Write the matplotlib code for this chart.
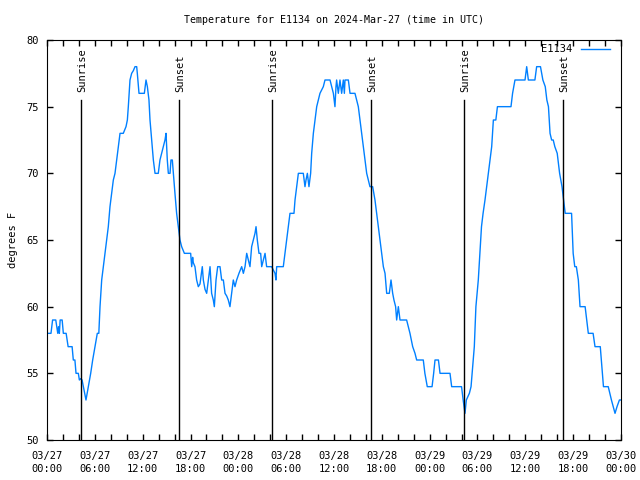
import numpy as np
import matplotlib.pyplot as plt

# hours after 03/27 00:00 UTC and temperature (degrees F)
hours = [0.0, 0.5, 0.7, 1.1, 1.35, 1.45, 1.55, 1.65, 1.9, 2.05, 2.4, 2.65, 3.15, 3.3, 3.5,
         3.64, 3.93, 4.06, 4.22, 4.4, 4.56, 4.89, 5.18, 5.48, 5.73, 6.02, 6.31, 6.5, 6.65,
         6.86, 7.07, 7.27, 7.48, 7.69, 7.9, 8.11, 8.32, 8.53, 8.74, 8.95, 9.16, 9.57, 9.91,
         10.08, 10.2, 10.41, 10.62, 10.83, 11.04, 11.25, 11.33, 11.54, 12.21, 12.42, 12.59,
         12.79, 12.92, 13.13, 13.34, 13.55, 13.96, 14.17, 14.38, 14.59, 14.8, 14.93, 15.09,
         15.22, 15.43, 15.55, 15.72, 15.85, 16.05, 16.26, 16.47, 16.68, 16.89, 17.1, 17.23,
         18.02, 18.15, 18.27, 18.35, 18.56, 18.77, 18.98, 19.19, 19.48, 19.61, 19.82, 20.03,
         20.24, 20.45, 20.65, 20.86, 20.99, 21.2, 21.41, 21.7, 21.91, 22.12, 22.33, 22.54,
         22.74, 22.95, 23.16, 23.37, 23.58, 23.79, 24.08, 24.42, 24.63, 24.84, 25.05, 25.25,
         25.46, 25.67, 25.88, 26.09, 26.22, 26.38, 26.59, 26.8, 26.93, 27.14, 27.35, 27.55,
         28.18, 28.6, 28.72, 28.81, 29.64, 29.85, 30.06, 30.27, 30.48, 30.98, 31.11, 31.32,
         31.53, 32.15, 32.36, 32.49, 32.66, 32.86, 33.07, 33.2, 33.41, 33.62, 33.83, 34.03,
         34.24, 34.66, 34.87, 35.5, 35.71, 35.92, 36.12, 36.25, 36.33, 36.54, 36.75, 36.96,
         37.17, 37.3, 37.38, 37.8, 38.01, 38.63, 38.84, 39.05, 39.26, 39.47, 39.68, 39.89,
         40.1, 40.31, 40.51, 40.72, 40.85, 41.14, 41.35, 41.56, 41.77, 41.98, 42.19, 42.4,
         42.61, 42.94, 43.15, 43.36, 43.52, 43.73, 43.86, 44.07, 44.28, 44.49, 45.11, 45.32,
         45.53, 45.87, 46.16, 46.37, 47.2, 47.4, 47.7, 48.3, 48.5, 48.67, 49.1, 49.3, 50.55,
         50.76, 52.0, 52.2, 52.43, 52.6, 52.98, 53.19, 53.4, 53.6, 53.8, 54.1, 54.3, 54.5,
         54.7, 54.94, 55.15, 55.36, 55.57, 55.78, 55.99, 56.3, 56.5, 58.2, 58.4, 58.7, 59.96,
         60.17, 60.38, 61.2, 61.42, 61.9, 62.2, 62.5, 62.7, 62.9, 63.1, 63.3, 63.5, 63.7,
         64.0, 64.3, 64.6, 64.8, 65.0, 65.8, 66.0, 66.2, 66.4, 66.65, 66.86, 67.5, 67.7, 67.9,
         68.5, 68.74, 69.4, 69.6, 69.8, 70.4, 70.6, 70.8, 71.25, 71.5, 71.8, 72.0]
temps = [58, 58, 59, 59, 58, 58.5, 58, 59, 59, 58, 58, 57, 57, 56, 56,
         55, 55, 54.5, 54.6, 54.5, 54, 53, 54, 55, 56, 57, 58, 58, 60,
         62, 63, 64, 65, 66, 67.5, 68.5, 69.5, 70, 71, 72, 73, 73, 73.5,
         74, 75, 77, 77.5, 77.7, 78, 78, 77.5, 76, 76, 77, 76.5,
         75.5, 74, 72.5, 71, 70, 70, 71, 71.5, 72, 72.5, 73, 71,
         70, 70, 71, 71, 70, 68.5, 67, 66, 65, 64.5, 64.2, 64,
         64, 63, 63.7, 63.3, 63, 62, 61.5, 61.7, 63, 62, 61.3, 61,
         62, 63, 61, 60.5, 60, 62, 63, 63, 62, 62, 61, 60.8,
         60.5, 60, 61, 62, 61.5, 62, 62.5, 63, 62.5, 63, 64, 63.5,
         63, 64.5, 65, 65.5, 66, 65, 64, 64, 63, 63.5, 64, 63,
         63, 62.5, 62, 63, 63, 64, 65, 66, 67, 67, 68, 69,
         70, 70, 69, 69.5, 70, 69, 70, 71.5, 73, 74, 75, 75.5,
         76, 76.5, 77, 77, 76.5, 76, 75, 76.5, 77, 76, 77, 76,
         77, 76, 77, 77, 76, 76, 75.5, 75, 74, 73, 72, 71,
         70, 69.5, 69, 69, 69, 68, 67, 66, 65, 64, 63, 62.5,
         61, 61, 62, 61, 60.5, 60, 59, 60, 59, 59, 59, 58.5,
         58, 57, 56.5, 56, 56, 55, 54, 54, 55, 56, 56, 55, 55,
         54, 54, 53, 52, 53, 53.5, 54, 55.5, 57, 60, 62, 64, 66,
         67, 68, 69, 70, 71, 72, 74, 74, 75, 75, 76, 77, 77,
         78, 77, 77, 78, 78, 77, 76.5, 75.5, 75, 73, 72.5, 72.5, 72,
         71.5, 70, 69, 68, 67, 67, 64, 63, 63, 62, 60, 60, 59, 58,
         58, 57, 57, 55.5, 54, 54, 53.5, 53, 52, 52.5, 53, 53]

sunrise = [4.30, 28.26, 52.35]
sunset = [16.6, 40.64, 64.76]

xtick_hours = np.arange(0, 73, 6)
xtick_labels = ['03/27\n00:00', '03/27\n06:00', '03/27\n12:00', '03/27\n18:00',
                '03/28\n00:00', '03/28\n06:00', '03/28\n12:00', '03/28\n18:00',
                '03/29\n00:00', '03/29\n06:00', '03/29\n12:00', '03/29\n18:00',
                '03/30\n00:00']

plt.rcParams['font.family'] = 'DejaVu Sans Mono'
plt.rcParams['font.size'] = 7.5

fig = plt.figure(figsize=(6.4, 4.8), dpi=100)
ax = fig.add_axes([47/640, 40/480, 574/640, 400/480])

ax.plot(hours, temps, color='#0080ff', lw=1, label='E1134')

for h in sunrise:
    ax.plot([h, h], [50, 75.5], color='black', lw=1)
    ax.text(h + 0.1, 76.1, 'Sunrise', rotation=90, ha='center', va='bottom')
for h in sunset:
    ax.plot([h, h], [50, 75.5], color='black', lw=1)
    ax.text(h + 0.1, 76.1, 'Sunset', rotation=90, ha='center', va='bottom')

ax.set_xlim(0, 72)
ax.set_ylim(50, 80)
ax.set_xticks(xtick_hours)
ax.set_xticklabels(xtick_labels, linespacing=1.3)
ax.set_xticks(np.arange(0, 73, 2), minor=True)
ax.set_yticks(np.arange(50, 81, 5))
ax.tick_params(which='both', direction='in', length=4, width=1, top=True, right=True)
ax.tick_params(axis='x', pad=8)
ax.tick_params(axis='y', pad=6)

ax.set_ylabel('degrees F', labelpad=6)
ax.set_title('Temperature for E1134 on 2024-Mar-27 (time in UTC)', fontsize=7.2, pad=12)

leg = ax.legend(loc='upper right', bbox_to_anchor=(0.993, 1.0075), frameon=False,
                markerfirst=False, handlelength=2.8, borderaxespad=0.3,
                handletextpad=0.8)

fig.savefig('out.png', dpi=100)
